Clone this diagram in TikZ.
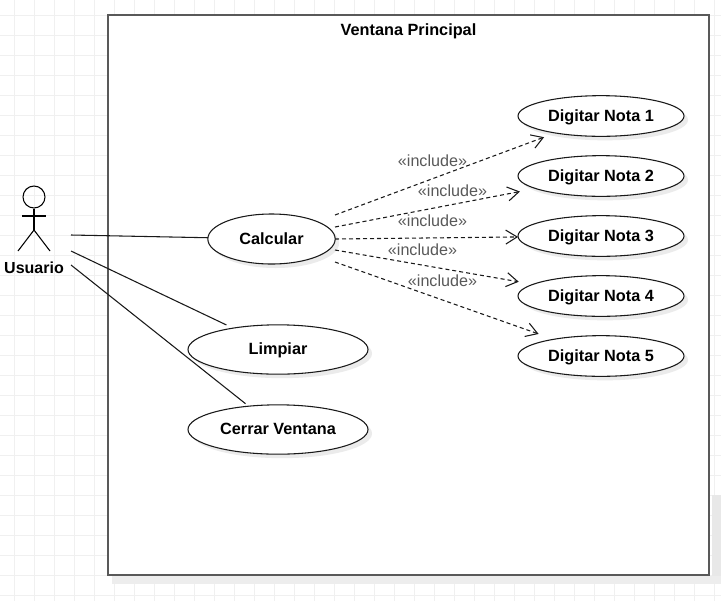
\documentclass[tikz,border=0pt]{standalone}
\usepackage{fontspec}
\setmainfont{Liberation Sans}
\usetikzlibrary{arrows.meta,shapes.geometric,shadows}

\tikzset{
  gridline/.style={draw=black!6, line width=0.75pt},
  usecase/.style={ellipse, draw=black!90, line width=0.8pt, fill=white, inner sep=0pt, outer sep=0pt,
    text height=9.5pt, text depth=1.6pt,
    font=\fontsize{12.2pt}{15pt}\selectfont\bfseries,
    drop shadow={shadow xshift=3pt, shadow yshift=-3pt, fill=black!8, opacity=1}},
  smallcase/.style={usecase, minimum width=124.5pt, minimum height=30.5pt},
  middlecase/.style={usecase, minimum width=95.5pt, minimum height=37.5pt},
  bigcase/.style={usecase, minimum width=135pt, minimum height=37pt},
  assoc/.style={draw=black!90, line width=0.8pt},
  incl/.style={draw=black!90, line width=0.8pt, dash pattern=on 3pt off 2.25pt, -{Straight Barb[length=8.5pt,width=10.5pt]}},
  incllabel/.style={text=black!65, font=\fontsize{12.1pt}{14pt}\selectfont, inner sep=0pt},
  actorline/.style={draw=black, line width=0.8pt}
}

\begin{document}
\begin{tikzpicture}[x=0.75pt, y=-0.75pt]

  \useasboundingbox (0,0) rectangle (721,601);

  % GRID
  \foreach \gx in {14,34,...,714} \draw [gridline] (\gx,0) -- (\gx,601);
  \foreach \gy in {15,35,...,595} \draw [gridline] (0,\gy) -- (721,\gy);

  % WINDOW
  \fill [black!9] (712,495) rectangle (721,584);
  \fill [black!7] (112,576) rectangle (721,584);
  \node [rectangle, draw=black!65, line width=1.5pt, fill=white, anchor=north west, minimum width=450.75pt, minimum height=420pt, inner sep=0pt, outer sep=0pt] (ventana) at (108,15) {};
  \node [font=\fontsize{12.2pt}{15pt}\selectfont\bfseries, inner sep=0pt] (titulo) at (408.5,31) {Ventana Principal};

  % ACTOR
  \node [circle, draw=black, line width=0.8pt, minimum size=16.5pt, inner sep=0pt] (cabeza) at (34,197) {};
  \coordinate (cadera) at (34,230);
  \coordinate (brazoA) at (22,216);
  \coordinate (brazoB) at (46,216);
  \coordinate (pieA) at (18,251);
  \coordinate (pieB) at (50,251);
  \draw [actorline] (cabeza) -- (cadera);
  \draw [actorline] (brazoA) -- (brazoB);
  \draw [actorline] (pieA) -- (cadera) -- (pieB);
  \node [font=\fontsize{12pt}{14pt}\selectfont\bfseries, inner sep=0pt] (usuario) at (34,268) {Usuario};

  % LEFT
  \node [middlecase] (calcular) at (271.5,239) {Calcular};
  \node [bigcase] (limpiar) at (278,349.5) {Limpiar};
  \node [bigcase] (cerrar) at (278,429.5) {Cerrar Ventana};

  \coordinate (actorA) at (71,235);
  \coordinate (actorB) at (71,251);
  \coordinate (actorC) at (71,265);
  \draw [assoc] (actorA) -- (calcular);
  \draw [assoc, shorten >=5.5pt] (actorB) -- (limpiar);
  \draw [assoc, shorten >=3pt] (actorC) -- (cerrar);

  % RIGHT
  \node [smallcase] (nota1) at (601,116) {Digitar Nota 1};
  \node [smallcase] (nota2) at (601,176) {Digitar Nota 2};
  \node [smallcase] (nota3) at (601,236) {Digitar Nota 3};
  \node [smallcase] (nota4) at (601,296) {Digitar Nota 4};
  \node [smallcase] (nota5) at (601,356) {Digitar Nota 5};

  \coordinate (inc1) at (335,215);
  \coordinate (inc2) at (335,227);
  \coordinate (inc3) at (335,239);
  \coordinate (inc4) at (335,250);
  \coordinate (inc5) at (335,262);
  \draw [incl, shorten >=9pt] (inc1) -- (nota1);
  \draw [incl, shorten >=12pt] (inc2) -- (nota2);
  \draw [incl] (inc3) -- (nota3);
  \draw [incl, shorten >=11pt] (inc4) -- (nota4);
  \draw [incl, shorten >=12pt] (inc5) -- (nota5);

  \node [incllabel] (lab1) at (432.5,161) {«include»};
  \node [incllabel] (lab2) at (452.5,191) {«include»};
  \node [incllabel] (lab3) at (432.5,221) {«include»};
  \node [incllabel] (lab4) at (422.5,250) {«include»};
  \node [incllabel] (lab5) at (442.5,281) {«include»};

\end{tikzpicture}
\end{document}
